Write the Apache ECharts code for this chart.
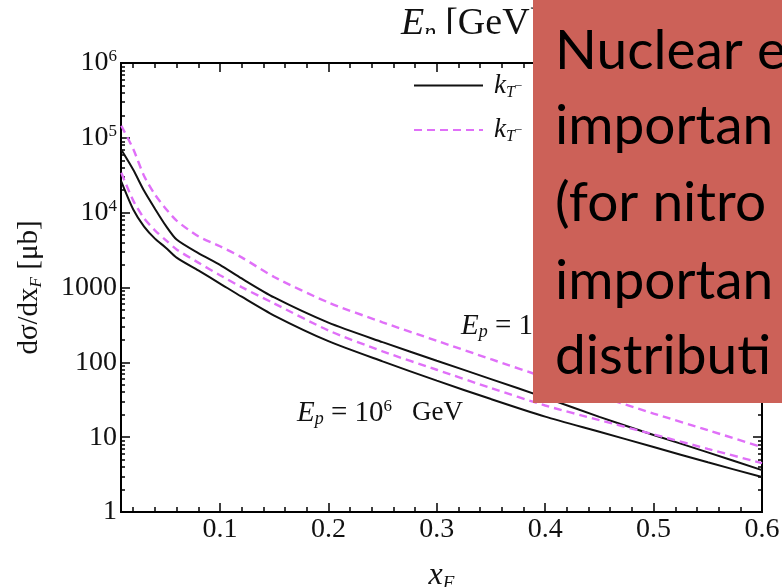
<!DOCTYPE html>
<html><head><meta charset="utf-8">
<script src="https://cdn.jsdelivr.net/npm/echarts@6/dist/echarts.min.js"></script>
<style>html,body{margin:0;padding:0;background:#fff}#c{width:782px;height:587px}</style>
</head><body><div id="c"></div>
<script>
// ---- data ----
const xF = [0.009, 0.02, 0.03, 0.04, 0.05, 0.06, 0.08, 0.1, 0.12, 0.15, 0.2, 0.25, 0.3, 0.35, 0.4, 0.45, 0.5, 0.55, 0.6];
const highDashed = [145000, 70800, 30900, 17500, 11300, 7820, 4830, 3560, 2530, 1380, 631, 343, 194, 110, 62.7, 35.3, 20.7, 12.4, 7.36];
const highSolid  = [69200, 37400, 19600, 11300, 6710, 4370, 2880, 2010, 1320, 736, 339, 186, 105, 59.7, 33.8, 18.7, 10.7, 6.27, 3.63];
const lowDashed  = [34100, 14500, 8410, 5810, 4290, 3230, 2150, 1460, 1010, 612, 267, 140, 79.6, 45.3, 26.5, 16.9, 10.9, 6.97, 4.5];
const lowSolid   = [25900, 11000, 6500, 4500, 3410, 2510, 1690, 1130, 753, 422, 192, 103, 56.9, 32.3, 18.8, 11.8, 7.38, 4.62, 2.93];
const xMajorTicks = [0.1, 0.2, 0.3, 0.4, 0.5, 0.6];
const xMinorTicks = [0.02, 0.04, 0.06, 0.08, 0.12, 0.14, 0.16, 0.18, 0.22, 0.24, 0.26, 0.28, 0.32, 0.34, 0.36, 0.38, 0.42, 0.44, 0.46, 0.48, 0.52, 0.54, 0.56, 0.58];
const yDecades = [1, 10, 100, 1000, 1e4, 1e5, 1e6];
const yMinorMantissa = [2, 3, 4, 5, 6, 7, 8, 9];
const boxLines = ['Nuclear e', 'importan', '(for nitro', 'importan', 'distributi'];

const yMinorLog = [];
yDecades.slice(0, -1).forEach(d => yMinorMantissa.forEach(m => yMinorLog.push(Math.log10(d * m))));

const SERIF = '"Liberation Serif", "Times New Roman", serif';
const MAG = '#e070f8';
const pairs = vals => xF.map((x, i) => [x, vals[i]]);

const chart = echarts.init(document.getElementById('c'), null, {renderer: 'canvas'});

const xBase = {type: 'value', min: 0.0087, max: 0.6, gridIndex: 0,
  splitLine: {show: false}, axisLine: {show: true, lineStyle: {color: '#000', width: 2}}};
const yLogBase = {type: 'log', logBase: 10, min: 1, max: 1e6, splitNumber: 6,
  splitLine: {show: false}, axisLine: {show: true, lineStyle: {color: '#000', width: 2}}};
const yLinBase = {type: 'value', min: 0, max: 6, splitLine: {show: false},
  axisLine: {show: false}, axisLabel: {show: false}};

const lineSeries = (name, vals, color, width, type) => ({
  name, type: 'line', xAxisIndex: 0, yAxisIndex: 0, data: pairs(vals), symbol: 'none', showSymbol: false,
  smooth: 0.25, lineStyle: {color, width, type}, itemStyle: {color}
});

const option = {
  animation: false,
  backgroundColor: '#fff',
  grid: {left: 121, right: 20, top: 63, bottom: 75, containLabel: false, outerBoundsMode: 'none'},
  xAxis: [
    Object.assign({}, xBase, {position: 'bottom',
      axisTick: {show: true, inside: true, length: 9, customValues: xMajorTicks, lineStyle: {color: '#000', width: 1.5}},
      axisLabel: {show: true, customValues: xMajorTicks, margin: 4, color: '#111', fontFamily: SERIF, fontSize: 28,
        formatter: v => String(Math.round(v * 10) / 10)},
      name: '{it|x}{sub|F}', nameLocation: 'middle', nameGap: 47,
      nameTextStyle: {rich: {
        it: {fontFamily: SERIF, fontStyle: 'italic', fontSize: 32, color: '#111', lineHeight: 34},
        sub: {fontFamily: SERIF, fontStyle: 'italic', fontSize: 19, color: '#111', verticalAlign: 'bottom', lineHeight: 19}
      }}}),
    Object.assign({}, xBase, {position: 'bottom',
      axisTick: {show: true, inside: true, length: 5, customValues: xMinorTicks, lineStyle: {color: '#000', width: 1.5}},
      axisLabel: {show: false}}),
    Object.assign({}, xBase, {position: 'top',
      axisTick: {show: true, inside: true, length: 9, customValues: xMajorTicks, lineStyle: {color: '#000', width: 1.5}},
      axisLabel: {show: false}}),
    Object.assign({}, xBase, {position: 'top',
      axisTick: {show: true, inside: true, length: 5, customValues: xMinorTicks, lineStyle: {color: '#000', width: 1.5}},
      axisLabel: {show: false}})
  ],
  yAxis: [
    Object.assign({}, yLogBase, {position: 'left',
      axisTick: {show: true, inside: true, length: 9, lineStyle: {color: '#000', width: 1.5}},
      axisLabel: {show: true, margin: 4, color: '#111', fontFamily: SERIF, fontSize: 28,
        formatter: v => v >= 1e4 ? '{b|10}{sup|' + Math.round(Math.log10(v)) + '}' : '{b|' + v + '}',
        rich: {b: {fontFamily: SERIF, fontSize: 28, color: '#111', lineHeight: 30},
               sup: {fontFamily: SERIF, fontSize: 17, color: '#111', verticalAlign: 'top', lineHeight: 17}}},
      name: '{n|dσ/dx}{sub|F}{n| [μb]}', nameLocation: 'middle', nameRotate: 90, nameGap: 76,
      nameTextStyle: {rich: {
        n: {fontFamily: SERIF, fontSize: 29, color: '#111', lineHeight: 31},
        sub: {fontFamily: SERIF, fontStyle: 'italic', fontSize: 17, color: '#111', verticalAlign: 'bottom', lineHeight: 17}
      }}}),
    Object.assign({}, yLinBase, {position: 'left',
      axisTick: {show: true, inside: true, length: 4, customValues: yMinorLog, lineStyle: {color: '#000', width: 1.5}}}),
    Object.assign({}, yLogBase, {position: 'right',
      axisTick: {show: true, inside: true, length: 9, lineStyle: {color: '#000', width: 1.5}},
      axisLabel: {show: false}}),
    Object.assign({}, yLinBase, {position: 'right',
      axisTick: {show: true, inside: true, length: 4, customValues: yMinorLog, lineStyle: {color: '#000', width: 1.5}}})
  ],
  legend: {
    show: true, orient: 'vertical', left: 413, top: 72, padding: 0, itemGap: 16,
    itemWidth: 69, itemHeight: 14,
    itemStyle: {opacity: 0},
    data: ['kT-solid', 'kT-dashed'],
    formatter: () => '{it|k}{sub|T}–',
    textStyle: {padding: [0, 0, 0, 6], rich: {
      it: {fontFamily: SERIF, fontStyle: 'italic', fontSize: 27, color: '#111', lineHeight: 30},
      sub: {fontFamily: SERIF, fontStyle: 'italic', fontSize: 16, color: '#111', verticalAlign: 'bottom', lineHeight: 16}
    }}
  },
  series: [
    lineSeries('kT-dashed', highDashed, MAG, 2.4, [8, 5]),
    lineSeries('kT-solid', highSolid, '#111', 2, 'solid'),
    lineSeries('kT-dashed', lowDashed, MAG, 2.4, [8, 5]),
    lineSeries('kT-solid', lowSolid, '#111', 2, 'solid')
  ],
  graphic: [
    {type: 'text', left: 401, top: 5, z: 10, style: {
      text: '{it|E}{sub|p}{n| [GeV]}', rich: {
        it: {fontFamily: SERIF, fontStyle: 'italic', fontSize: 38, fill: '#111', lineHeight: 40},
        sub: {fontFamily: SERIF, fontStyle: 'italic', fontSize: 23, fill: '#111', verticalAlign: 'bottom', lineHeight: 23},
        n: {fontFamily: SERIF, fontSize: 38, fill: '#111', lineHeight: 40}}}},
    {type: 'rect', z: 11, shape: {x: 390, y: 34, width: 145, height: 24}, style: {fill: '#fff'}},
    {type: 'text', left: 297, top: 398, z: 10, style: {
      text: '{it|E}{sub|p}{n| = 10}{sup|6}{g|GeV}', rich: {
        it: {fontFamily: SERIF, fontStyle: 'italic', fontSize: 29, fill: '#111', lineHeight: 30},
        sub: {fontFamily: SERIF, fontStyle: 'italic', fontSize: 18, fill: '#111', verticalAlign: 'bottom', lineHeight: 18},
        sup: {fontFamily: SERIF, fontSize: 17, fill: '#111', verticalAlign: 'top', lineHeight: 17},
        n: {fontFamily: SERIF, fontSize: 29, fill: '#111', lineHeight: 30},
        g: {fontFamily: SERIF, fontSize: 27, fill: '#111', lineHeight: 30, padding: [0, 0, 0, 20]}}}},
    {type: 'text', left: 461, top: 312, z: 10, style: {
      text: '{it|E}{sub|p}{n| = 1}', rich: {
        it: {fontFamily: SERIF, fontStyle: 'italic', fontSize: 29, fill: '#111', lineHeight: 30},
        sub: {fontFamily: SERIF, fontStyle: 'italic', fontSize: 18, fill: '#111', verticalAlign: 'bottom', lineHeight: 18},
        n: {fontFamily: SERIF, fontSize: 29, fill: '#111', lineHeight: 30}}}},
    {type: 'rect', z: 100, shape: {x: 533, y: 0, width: 260, height: 403}, style: {fill: '#cc6158'}},
    {type: 'group', z: 101, children: boxLines.map((t, i) => ({
      type: 'text', z: 101, x: 555, y: [51, 126, 203, 281, 356][i],
      style: {text: t, fontFamily: 'Lato, "Open Sans", sans-serif', fontSize: 55, fill: '#000', verticalAlign: 'middle'}
    }))}
  ]
};
chart.setOption(option);
</script></body></html>
